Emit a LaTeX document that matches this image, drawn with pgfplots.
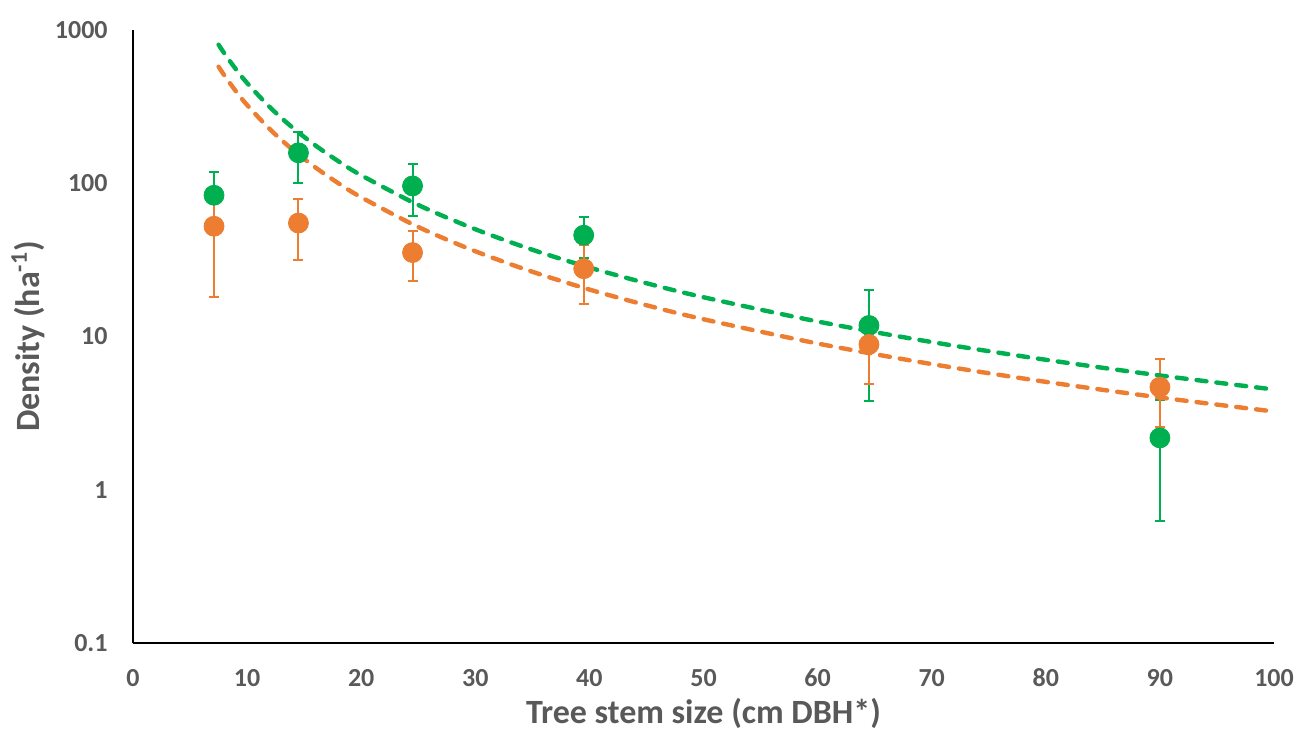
\documentclass[border=0pt]{standalone}
\usepackage{pgfplots}
\pgfplotsset{compat=1.18}
\usepackage{pgfplotstable}
\usepackage{fontspec}
\setmainfont{Carlito}
\definecolor{cgreen}{HTML}{00B050}
\definecolor{corange}{HTML}{ED7D31}
\definecolor{tgrey}{HTML}{595959}

\pgfplotstableread{
x y ep em
7.1 83.5 34.5 25.5
14.5 158 58 58
24.5 96 37 35
39.5 45.8 14.5 13.5
64.5 11.8 8.2 8.0
90 2.18 1.69 1.55
}\greendata

\pgfplotstableread{
x y ep em
7.1 52.4 33.6 34.3
14.5 55 24.5 23.2
24.5 35.3 13.6 12.3
39.5 27.7 11.7 11.3
64.5 8.87 4.0 3.96
90 4.67 2.41 2.1
}\orangedata

\pgfplotstableread{
x y
7.5 801.8
8 704.7
9 556.8
10 451
12 313.2
14 230.1
16 176.2
18 139.2
20 112.75
25 72.16
30 50.11
35 36.82
40 28.19
45 22.27
50 18.04
60 12.53
70 9.20
80 7.05
90 5.57
100 4.51
}\greenfit

\pgfplotstableread{
x y
7.5 576
8 506.3
9 400
10 324
12 225
14 165.3
16 126.6
18 100
20 81
25 51.84
30 36
35 26.45
40 20.25
45 16
50 12.96
60 9
70 6.61
80 5.06
90 4
100 3.24
}\orangefit

\begin{document}
\begin{tikzpicture}
\path[use as bounding box] (-66.5pt,-47.5pt) rectangle (583pt,321.5pt);
\begin{axis}[
  scale only axis,
  width=570.5pt, height=306.5pt,
  at={(0,0)}, anchor=south west,
  xmin=0, xmax=100,
  ymode=log, ymin=0.1, ymax=1000,
  axis x line=bottom, axis y line=left,
  axis line style={line width=1.2pt, black, -},
  xtick={0,10,...,100},
  ytick={0.1,1,10,100,1000},
  yticklabels={0.1,1,10,100,1000},
  major tick length=0pt,
  minor tick num=0,
  log basis y=10,
  /pgf/number format/assume math mode=true,
  tick label style={font=\fontsize{13}{13}\selectfont\bfseries, text=tgrey},
  xticklabel style={anchor=center, yshift=-17.5pt},
  yticklabel style={anchor=east, inner sep=0pt, xshift=-12.5pt},
  xlabel={Tree stem size (cm DBH*)},
  ylabel={Density (ha\textsuperscript{-1})},
  label style={font=\fontsize{17}{17}\selectfont\bfseries, text=tgrey},
  x label style={at={(axis description cs:0.5,-0.1142)}, anchor=center},
  y label style={at={(axis description cs:-0.092,0.5)}, anchor=center, rotate=0},
  clip=false,
]
\addplot[only marks, mark=*, mark size=5pt, color=cgreen,
  error bars/.cd, y dir=both, y explicit,
  error bar style={line width=1pt, cgreen},
  error mark options={rotate=90, line width=1pt, mark size=2.5pt, cgreen}]
  table[x=x, y=y, y error plus=ep, y error minus=em]{\greendata};
\addplot[only marks, mark=*, mark size=5pt, color=corange,
  error bars/.cd, y dir=both, y explicit,
  error bar style={line width=1pt, corange},
  error mark options={rotate=90, line width=1pt, mark size=2.5pt, corange}]
  table[x=x, y=y, y error plus=ep, y error minus=em]{\orangedata};
\addplot[no marks, smooth, corange, line width=2.2pt, line cap=round, dash pattern=on 5pt off 5pt]
  table[x=x, y=y]{\orangefit};
\addplot[no marks, smooth, cgreen, line width=2.2pt, line cap=round, dash pattern=on 5pt off 5pt]
  table[x=x, y=y]{\greenfit};
\end{axis}
\end{tikzpicture}
\end{document}
